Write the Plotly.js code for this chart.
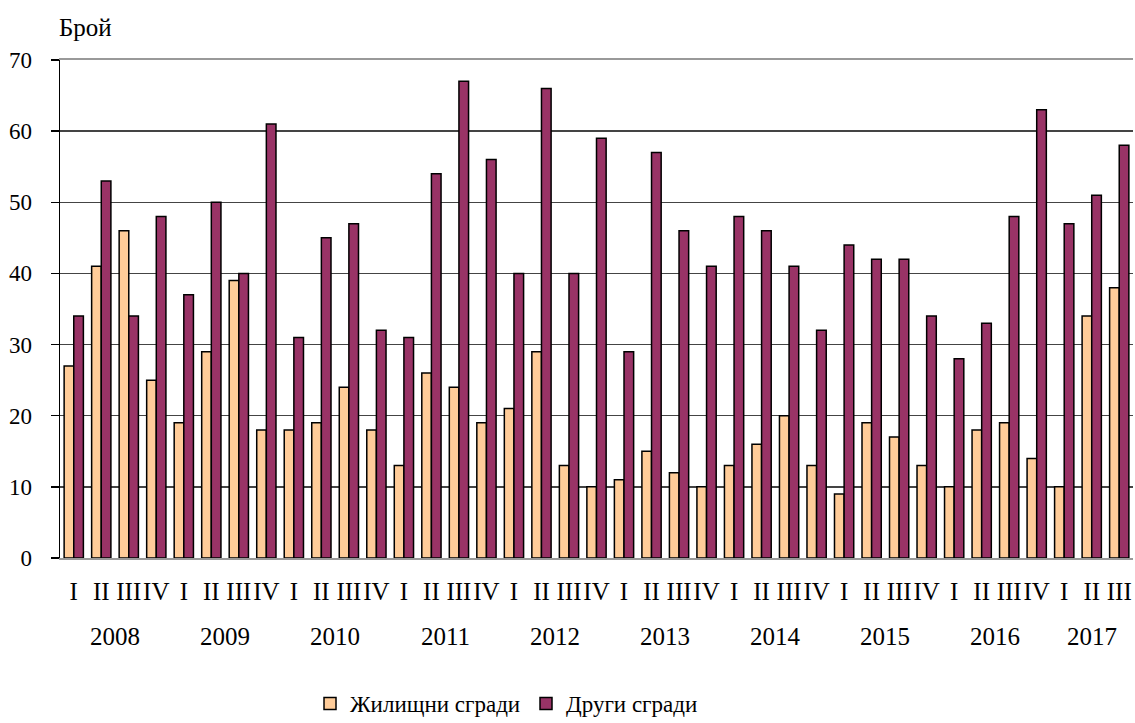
<!DOCTYPE html>
<html>
<head>
<meta charset="utf-8">
<script src="https://cdn.plot.ly/plotly-3.0.1.min.js"></script>
<style>html,body{margin:0;padding:0;background:#fff;}#chart{width:1135px;height:723px;}</style>
</head>
<body>
<div id="chart"></div>
<script>
const years = ["2008","2009","2010","2011","2012","2013","2014","2015","2016","2017"];
const quarterLabels = ["I","II","III","IV"];
const quartersPerYear = [4,4,4,4,4,4,4,4,4,3];
const residential = [27,41,46,25, 19,29,39,18, 18,19,24,18, 13,26,24,19, 21,29,13,10, 11,15,12,10, 13,16,20,13, 9,19,17,13, 10,18,19,14, 10,34,38];
const other = [34,53,34,48, 37,50,40,61, 31,45,47,32, 31,54,67,56, 40,66,40,59, 29,57,46,41, 48,46,41,32, 44,42,42,34, 28,33,48,63, 47,51,58];
const seriesNames = ["Жилищни сгради","Други сгради"];
const yTitle = "Брой";

const x = [], tickText = [], yearCenters = [];
let idx = 0;
years.forEach((y, i) => {
  const n = quartersPerYear[i];
  for (let q = 0; q < n; q++) { x.push(idx + q); tickText.push(quarterLabels[q]); }
  yearCenters.push(idx + (n - 1) / 2);
  idx += n;
});

const serif = "'Times New Roman', 'Liberation Serif', 'DejaVu Serif', serif";
const traces = [
  {type:"bar", name:seriesNames[0], x:x, y:residential,
   marker:{color:"#FFCC99", line:{color:"#000", width:1.5}}},
  {type:"bar", name:seriesNames[1], x:x, y:other,
   marker:{color:"#993366", line:{color:"#000", width:1.5}}}
];

const annotations = years.map((y, i) => ({
  text: y, x: yearCenters[i], xref: "x", y: -0.157, yref: "paper",
  showarrow: false, yanchor: "middle", font: {family: serif, size: 25, color: "#000"}
}));
annotations.push({text: yTitle, x: -0.003, xref: "paper", xanchor:"left", y: 1.066, yref: "paper", yanchor: "middle",
  showarrow: false, font: {family: serif, size: 25, color: "#000"}});

const layout = {
  width: 1135, height: 723,
  margin: {l: 60, r: 2, t: 60, b: 165},
  paper_bgcolor: "#fff", plot_bgcolor: "#fff",
  barmode: "group", bargap: 0.3, bargroupgap: 0,
  font: {family: serif, color: "#000", size: 22},
  showlegend: true,
  legend: {orientation: "h", xref: "paper", x: 0.233, xanchor: "left",
    yref: "container", y: 0.027, yanchor: "middle",
    entrywidth: 171, entrywidthmode: "pixels",
    font: {family: serif, size: 23, color: "#000"}, itemwidth: 30, traceorder: "normal"},
  xaxis: {
    range: [-0.5, x.length - 0.5], tickmode: "array", tickvals: x, ticktext: tickText, tickangle: 0,
    showgrid: false, zeroline: false, showline: true, linecolor: "#999", linewidth: 2, mirror: true,
    ticks: "", tickfont: {family: serif, size: 25, color: "#000"}, ticklabelstandoff: 10, automargin: false
  },
  yaxis: {
    range: [0, 70], dtick: 10, tick0: 0, showgrid: true, gridcolor: "#444", gridwidth: 1.5,
    zeroline: false, showline: true, linecolor: "#000", linewidth: 1.5,
    ticks: "outside", ticklen: 8, tickcolor: "#000", tickwidth: 1.5, ticklabelstandoff: 14,
    tickfont: {family: serif, size: 23, color: "#000"}, automargin: false
  },
  annotations: annotations
};

Plotly.newPlot("chart", traces, layout, {displayModeBar: false, staticPlot: true});
</script>
</body>
</html>
